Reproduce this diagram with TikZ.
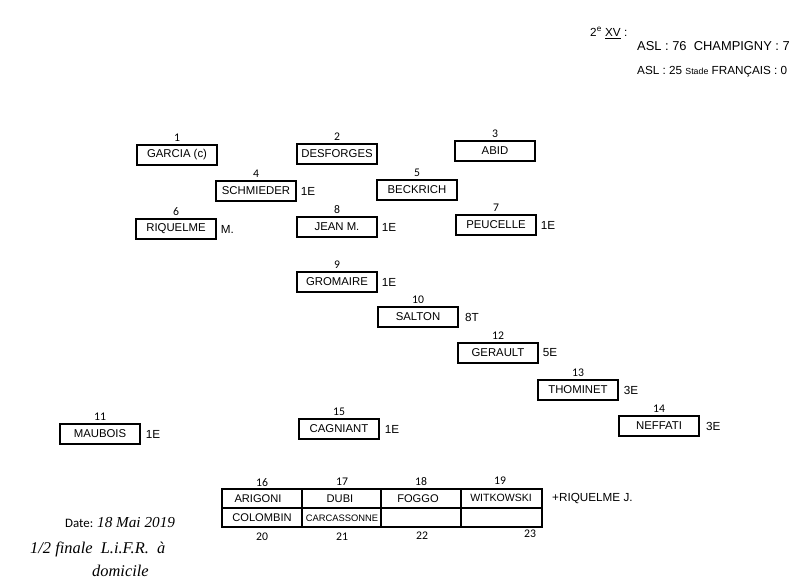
\documentclass[tikz,border=0pt]{standalone}
\usepackage{fontspec}
\usetikzlibrary{positioning}
\setmainfont{Liberation Sans}
\newfontfamily\numfont{Carlito}
\newfontfamily\cursive{Liberation Serif}
\begin{document}
\begin{tikzpicture}[x=0.03cm,y=-0.03cm,
  pbox/.style={draw,line width=1.8pt,minimum width=2.4cm,minimum height=0.6cm,inner sep=0pt,font=\fontsize{9.7}{11}\selectfont},
  num/.style={font=\numfont\fontsize{10}{11}\selectfont,inner sep=1pt},
  note/.style={font=\fontsize{10}{11}\selectfont,inner sep=1pt,anchor=west},
  cell/.style={font=\fontsize{9.5}{10}\selectfont,inner sep=0pt},
  hand/.style={font=\fontsize{11}{12}\selectfont,inner sep=0pt,anchor=west}]
\useasboundingbox (0,0) rectangle (800,582);
% players
\node[pbox] (p1) at (177,155) {GARCIA (c)};
\node[num,above=1pt of p1] (n1) {1};
\node[pbox] (p2) at (337,154) {DESFORGES};
\node[num,above=1pt of p2] (n2) {2};
\node[pbox] (p3) at (495,151) {ABID};
\node[num,above=1pt of p3] (n3) {3};
\node[pbox] (p4) at (256,191) {SCHMIEDER};
\node[num,above=1pt of p4] (n4) {4};
\node[note] (e4) at ([xshift=2pt]p4.east) {1E};
\node[pbox] (p5) at (417,190) {BECKRICH};
\node[num,above=1pt of p5] (n5) {5};
\node[pbox] (p6) at (176,229) {RIQUELME};
\node[num,above=1pt of p6] (n6) {6};
\node[note] (e6) at ([xshift=2pt]p6.east) {M.};
\node[pbox] (p8) at (337,227) {JEAN M.};
\node[num,above=1pt of p8] (n8) {8};
\node[note] (e8) at ([xshift=2pt]p8.east) {1E};
\node[pbox] (p7) at (496,225) {PEUCELLE};
\node[num,above=1pt of p7] (n7) {7};
\node[note] (e7) at ([xshift=2pt]p7.east) {1E};
\node[pbox] (p9) at (337,282) {GROMAIRE};
\node[num,above=1pt of p9] (n9) {9};
\node[note] (e9) at ([xshift=2pt]p9.east) {1E};
\node[pbox] (p10) at (418,317) {SALTON};
\node[num,above=1pt of p10] (n10) {10};
\node[note] (e10) at ([xshift=4pt]p10.east) {8T};
\node[pbox] (p12) at (498,353) {GERAULT};
\node[num,above=1pt of p12] (n12) {12};
\node[note] (e12) at ([xshift=2pt]p12.east) {5E};
\node[pbox] (p13) at (578,390) {THOMINET};
\node[num,above=1pt of p13] (n13) {13};
\node[note] (e13) at ([xshift=3pt]p13.east) {3E};
\node[pbox] (p14) at (659,426) {NEFFATI};
\node[num,above=1pt of p14] (n14) {14};
\node[note] (e14) at ([xshift=4pt]p14.east) {3E};
\node[pbox] (p11) at (100,434) {MAUBOIS};
\node[num,above=1pt of p11] (n11) {11};
\node[note] (e11) at ([xshift=3pt]p11.east) {1E};
\node[pbox] (p15) at (339,429) {CAGNIANT};
\node[num,above=1pt of p15] (n15) {15};
\node[note] (e15) at ([xshift=3pt]p15.east) {1E};
% substitutes table
\draw[line width=1.6pt] (222,489) rectangle (542,527);
\draw[line width=1.3pt] (222,508) -- (542,508);
\foreach \xx in {302,381,461} \draw[line width=1.3pt] (\xx,489) -- (\xx,527);
\node[cell] (s16) at (258,499) {ARIGONI};
\node[cell] (s17) at (340,499) {DUBI};
\node[cell] (s18) at (418,499) {FOGGO};
\node[cell,font=\fontsize{9}{10}\selectfont] (s19) at (501,498) {WITKOWSKI};
\node[cell] (s20) at (262,518) {COLOMBIN};
\node[cell,font=\fontsize{8}{9}\selectfont] (s21) at (342,518) {CARCASSONNE};
\node[num] (n16) at (262,483) {16};
\node[num] (n17) at (342,482) {17};
\node[num] (n18) at (421,482) {18};
\node[num] (n19) at (500,481) {19};
\node[num] (n20) at (262,537) {20};
\node[num] (n21) at (342,537) {21};
\node[num] (n22) at (422,536) {22};
\node[num] (n23) at (530,534) {23};
\node[hand,font=\fontsize{10}{11}\selectfont] (extra) at (552,499) {+RIQUELME J.};
% score
\node[hand,font=\fontsize{10}{11}\selectfont] (team) at (590,33) {2\textsuperscript{e} \underline{XV} :};
\node[hand,font=\fontsize{11}{12}\selectfont] (sc1) at (637,46) {ASL : 76 \ CHAMPIGNY : 7};
\node[hand,font=\fontsize{10}{12}\selectfont] (sc2) at (637,72) {ASL : 25 {\fontsize{7.5}{9}\selectfont Stade} FRANÇAIS : 0};
% date
\node[hand,font=\numfont\fontsize{11}{12}\selectfont] (date) at (65,523) {Date: {\cursive\itshape\fontsize{13}{14}\selectfont 18 Mai 2019}};
\node[hand,font=\cursive\itshape\fontsize{14}{15}\selectfont] (match) at (30,549) {1/2 finale \ L.i.F.R. \ à};
\node[hand,font=\cursive\itshape\fontsize{14}{15}\selectfont] (dom) at (92,571) {domicile};
\end{tikzpicture}
\end{document}
